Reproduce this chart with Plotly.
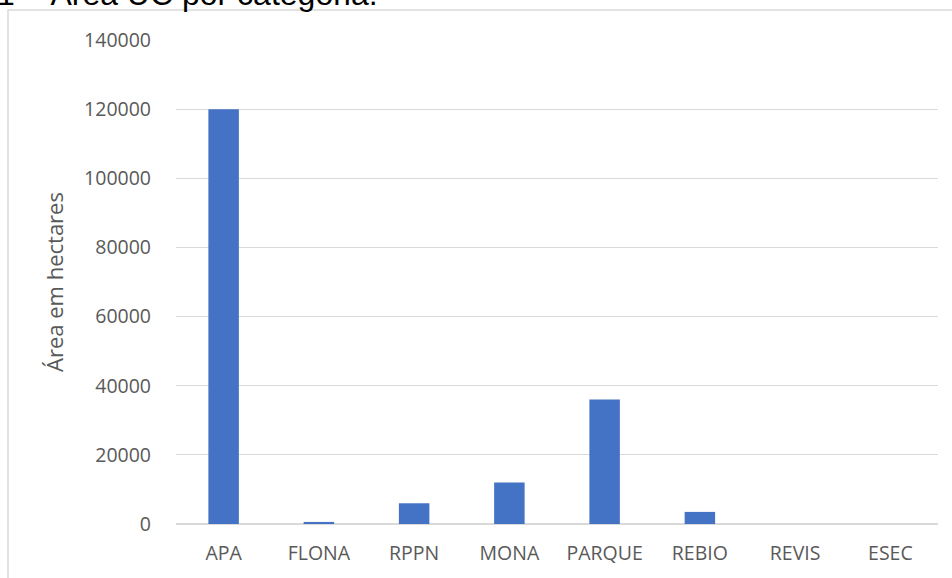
import plotly.graph_objects as go

categories = ["APA", "FLONA", "RPPN", "MONA", "PARQUE", "REBIO", "REVIS", "ESEC"]
area_ha = [120000, 600, 6000, 12000, 36000, 3500, 0, 0]
y_ticks = [0, 20000, 40000, 60000, 80000, 100000, 120000, 140000]
y_tick_text = [str(v) for v in y_ticks]

W, H = 952, 578
ml, mr, mt, mb = 176, 14, 40, 54
pw, ph = W - ml - mr, H - mt - mb

def px(x):
    return (x - ml) / pw

def py(y):
    return (H - mb - y) / ph

fig = go.Figure(go.Bar(
    x=categories, y=area_ha,
    marker=dict(color="#4472C4", line=dict(width=0)),
    width=0.32,
))

fig.update_layout(
    width=W, height=H,
    margin=dict(l=ml, r=mr, t=mt, b=mb),
    paper_bgcolor="white", plot_bgcolor="white",
    font=dict(family="Open Sans, Liberation Sans, sans-serif", color="#595959", size=19.5),
    showlegend=False,
    xaxis=dict(showgrid=False, showline=False, ticks="", ticklabelstandoff=15,
               tickfont=dict(size=19.5, color="#595959")),
    yaxis=dict(range=[0, 140000], tickvals=y_ticks, ticktext=y_tick_text,
               showgrid=True, gridcolor="#d9d9d9",
               gridwidth=1, zeroline=True, zerolinecolor="#d9d9d9", zerolinewidth=2,
               ticks="", ticklabelstandoff=24, tickfont=dict(size=19.5, color="#595959"),
               title=dict(text="Área em hectares", standoff=14,
                          font=dict(size=22, color="#595959"))),
    shapes=[dict(type="rect", xref="paper", yref="paper",
                 x0=px(8), x1=px(1000), y0=py(620), y1=py(10),
                 line=dict(color="#d9d9d9", width=1.5), fillcolor="rgba(0,0,0,0)", layer="below")],
    annotations=[dict(text="1 – Área UC por categoria.", xref="paper", yref="paper",
                      x=px(-5), y=py(-6.5), xanchor="left", yanchor="middle", showarrow=False,
                      font=dict(family="Liberation Sans, Arial, sans-serif", size=32, color="black"))],
)

fig.write_html("out.html")
